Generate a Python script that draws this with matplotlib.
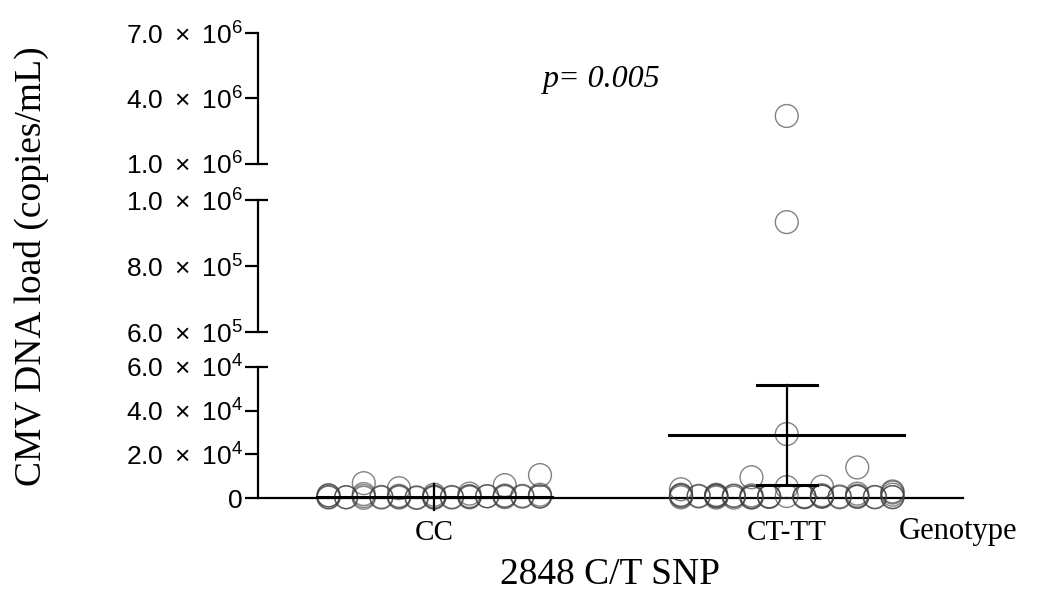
import numpy as np
import matplotlib
matplotlib.use('Agg')
import matplotlib.pyplot as plt

plt.rcParams['font.family'] = ['Liberation Sans', 'DejaVu Sans']
plt.rcParams['mathtext.fontset'] = 'custom'
plt.rcParams['mathtext.rm'] = 'Liberation Sans'
plt.rcParams['mathtext.it'] = 'Liberation Sans:italic'

# data
groups = ['CC', 'CT-TT']
cc_vals = [1500, 4500, 2000, 6800, 5900, 1200, 10500, 300, 500, 200,
           800, 400, 600, 700, 1000, 900, 1800, 1100, 200, 1500,
           100, 600, 300, 900, 400, 1200, 700, 0, 200, 500,
           800, 300, 1000, 400, 200, 600, 100, 900, 500, 700]
ct_vals = [5000, 9500, 5200, 1500, 14000, 4000, 3000, 600, 400, 900,
           300, 700, 500, 3200000, 1200, 800, 1000, 2000, 1500, 2500,
           933000, 300, 600, 200, 1100, 900, 400, 500, 800, 200,
           700, 1000, 300, 29300, 600, 1300, 800, 500, 1200, 400,
           900, 200, 700, 1000, 600, 300, 1500, 800, 400, 1100]
means = [500, 28900]
sems = [6000, 22900]
p_text = 'p= 0.005'

# broken y axis: (low, high, ticks, tick labels), bottom to top
segments = [
    (0, 6e4, [0, 2e4, 4e4, 6e4],
     ['0', r'$2.0\ \times\ 10^{4}$', r'$4.0\ \times\ 10^{4}$',
      r'$6.0\ \times\ 10^{4}$']),
    (6e5, 1e6, [6e5, 8e5, 1e6],
     [r'$6.0\ \times\ 10^{5}$', r'$8.0\ \times\ 10^{5}$',
      r'$1.0\ \times\ 10^{6}$']),
    (1e6, 7e6, [1e6, 4e6, 7e6],
     [r'$1.0\ \times\ 10^{6}$', r'$4.0\ \times\ 10^{6}$',
      r'$7.0\ \times\ 10^{6}$']),
]

# column layout of the dots (like a scatter dot plot)
slots = [0, -.1, .1, -.2, .2, -.3, .3, -.05, .05, -.15, .15, -.25, .25,
         0, -.1, .1, -.2, .2, -.3, .3]


def spread(n):
    return np.array([slots[i % len(slots)] for i in range(n)])


W, H = 1037, 597
fig = plt.figure(figsize=(W / 100, H / 100), dpi=100)

# pixel boxes (left, top, right, bottom) for each segment, bottom to top
boxes = [(258, 367, 963, 498), (258, 200, 963, 332), (258, 33, 963, 164)]

lw = 1.6
axes = []
for k, (lo, hi, ticks, labels) in enumerate(segments):
    l, t, r, b = boxes[k]
    ax = fig.add_axes([l / W, 1 - b / H, (r - l) / W, (b - t) / H])
    axes.append(ax)
    ax.set_xlim(0.5, 2.5)
    ax.set_ylim(lo, hi)
    for s in ['top', 'right']:
        ax.spines[s].set_visible(False)
    ax.spines['left'].set_linewidth(lw)
    if k > 0:
        ax.spines['bottom'].set_visible(False)
        ax.set_xticks([])
    else:
        ax.spines['bottom'].set_linewidth(lw)
        ax.set_xticks([1, 2])
        ax.set_xticklabels(groups, family='Liberation Serif', fontsize=21)
        ax.tick_params(axis='x', length=0, pad=16)
        ax.set_xlabel('2848 C/T SNP', family='Liberation Serif', fontsize=27,
                      labelpad=8)
    ax.set_yticks(ticks)
    ax.set_yticklabels(labels, fontsize=19)
    ax.tick_params(axis='y', length=9.5, width=lw, pad=1.5, color='black')
    ax.patch.set_alpha(0)

    # end caps at the breaks
    cap = 10 / (r - l)
    ends = []
    if k < len(segments) - 1:
        ends.append(1)
    if k > 0:
        ends.append(0)
    for e in ends:
        ax.plot([0, cap], [e, e], transform=ax.transAxes, color='black',
                lw=lw, clip_on=False, solid_capstyle='butt')

    # dots in this segment
    for g, vals in enumerate([cc_vals, ct_vals]):
        vals = np.array(vals, dtype=float)
        xs = g + 1 + spread(len(vals))
        m = (vals >= lo) & (vals <= hi) if k > 0 else (vals <= hi)
        if not m.any():
            continue
        ax.scatter(xs[m], vals[m], s=270, facecolors='none',
                   edgecolors='#404040', linewidths=1.0, alpha=0.65,
                   clip_on=False, zorder=3)

# mean and error bars in the bottom segment
ax0 = axes[0]
for g in range(2):
    x = g + 1
    ax0.plot([x - 0.333, x + 0.333], [means[g], means[g]], color='black',
             lw=2.2, zorder=4, clip_on=False)
    ax0.plot([x, x], [means[g] - sems[g], means[g] + sems[g]], color='black',
             lw=1.6, zorder=4, clip_on=False)
    if means[g] - sems[g] > 0:
        for yc in [means[g] - sems[g], means[g] + sems[g]]:
            ax0.plot([x - 0.085, x + 0.085], [yc, yc], color='black', lw=2.2,
                     zorder=4)

fig.text(958 / W, 1 - 532 / H, 'Genotype', family='Liberation Serif',
         fontsize=22, ha='center', va='center')
fig.text(602 / W, 1 - 79 / H, p_text, family='Liberation Serif',
         style='italic', fontsize=23, ha='center', va='center')
fig.text(31 / W, 1 - 266 / H, 'CMV DNA load (copies/mL)',
         family='Liberation Serif', fontsize=27, rotation=90,
         ha='center', va='center')

fig.savefig('out.png', dpi=100)
